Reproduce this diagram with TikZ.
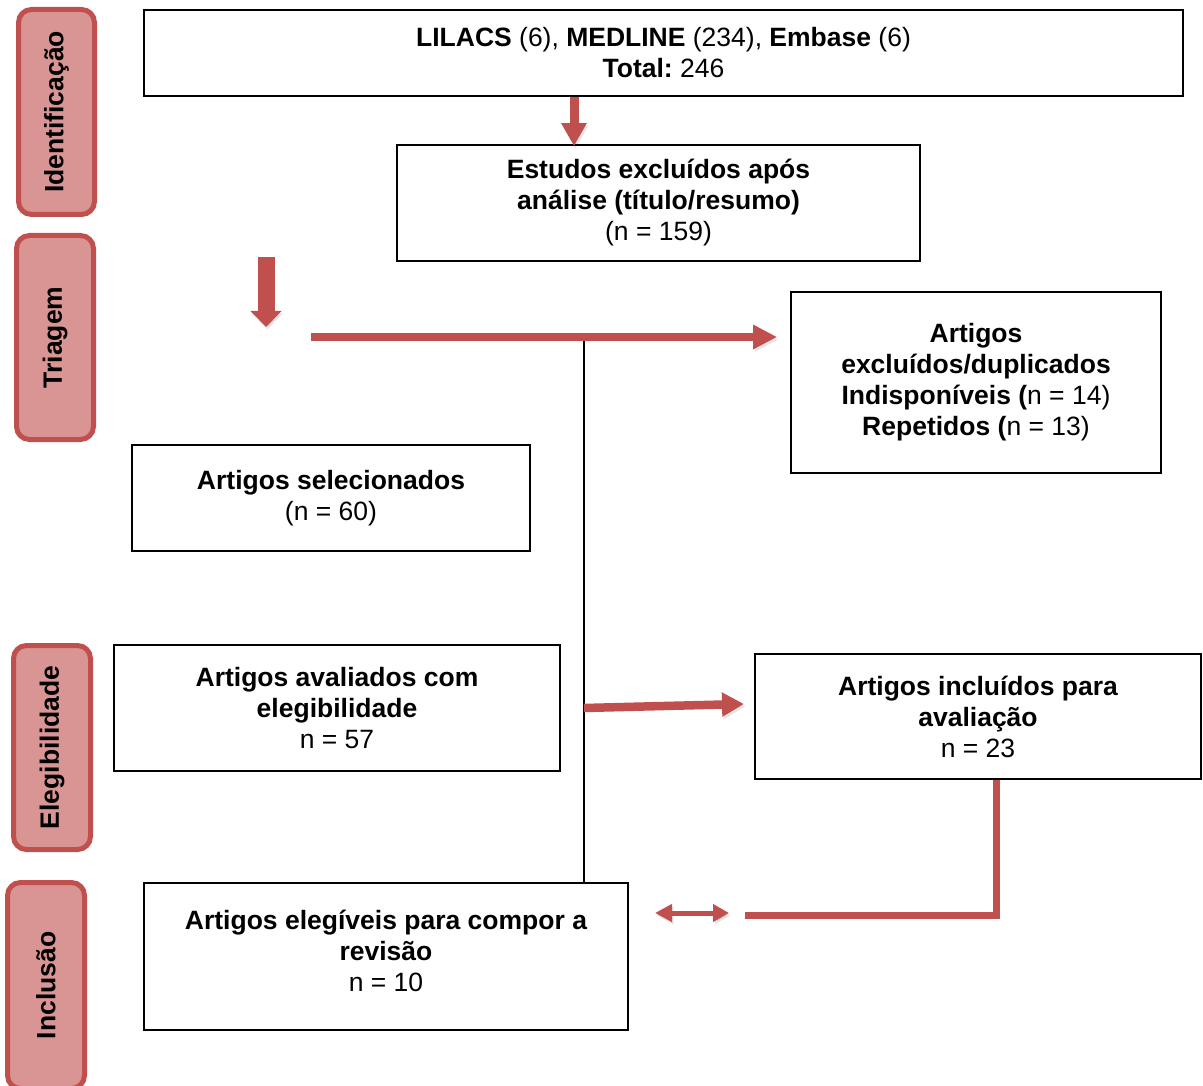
\documentclass[tikz,border=0pt]{standalone}
\usepackage{fontspec}
\setmainfont{Liberation Sans}
\usetikzlibrary{arrows.meta}
\definecolor{redA}{HTML}{C0504D}
\definecolor{pinkA}{HTML}{D99594}
\tikzset{
  box/.style={draw=black, line width=1.8pt, align=center, inner sep=0pt, text=black,
    font=\fontsize{26.5}{31}\selectfont},
  phase/.style={draw=redA, fill=pinkA, line width=5pt, rounded corners=13pt, inner sep=0pt,
    rotate=90, text=black, font=\bfseries\fontsize{26.5}{31}\selectfont},
  redline/.style={draw=redA, line width=#1, line join=miter,
    preaction={draw=black, draw opacity=0.10, fill opacity=0.10, transform canvas={shift={(1.5pt,-2.5pt)}}}},
}
\begin{document}
\begin{tikzpicture}[x=1pt,y=-1pt]
\useasboundingbox (0,0) rectangle (1203,1086);

% phase labels
\node[phase, minimum width=205pt, minimum height=76pt] (p1) at (56.5,112) {Identificação};
\node[phase, minimum width=204pt, minimum height=77pt] (p2) at (55,337.5) {Triagem};
\node[phase, minimum width=204pt, minimum height=77pt] (p3) at (52,747.5) {Elegibilidade};
\node[phase, minimum width=206pt, minimum height=77pt] (p4) at (46,985.5) {Inclusão};

% boxes
\node[box, minimum width=1039pt, minimum height=86pt] (src) at (663.5,53)
  {{\bfseries LILACS} (6), {\bfseries MEDLINE} (234), {\bfseries Embase} (6)\\{\bfseries Total:}~246};
\node[box, minimum width=523pt, minimum height=116pt] (est) at (658.5,203)
  {{\bfseries Estudos excluídos após}\\{\bfseries análise (título/resumo)}\\(n = 159)};
\node[box, minimum width=370pt, minimum height=181pt] (excl) at (976,382.5)
  {{\bfseries Artigos}\\{\bfseries excluídos/duplicados}\\{\bfseries Indisponíveis (}n = 14)\\{\bfseries Repetidos (}n = 13)};
\node[box, minimum width=398pt, minimum height=106pt] (sel) at (331,498)
  {{\bfseries Artigos selecionados}\\(n = 60)};
\node[box, minimum width=446pt, minimum height=126pt] (aval) at (337,708)
  {{\bfseries Artigos avaliados com}\\{\bfseries elegibilidade}\\n = 57};
\node[box, minimum width=446pt, minimum height=125pt] (incl) at (978,716.5)
  {{\bfseries Artigos incluídos para}\\{\bfseries avaliação}\\n = 23};
\node[box, minimum width=484pt, minimum height=147pt, text depth=12pt] (elig) at (386,956.5)
  {{\bfseries Artigos elegíveis para compor a}\\{\bfseries revisão}\\n = 10};

% coordinates for free ends
\coordinate (a1) at (574,0);
\coordinate (t1) at (266,257);
\coordinate (t2) at (266,327);
\coordinate (h1) at (311,337);
\coordinate (v1) at (584,340);
\coordinate (e1) at (584,708);
\coordinate (e2) at (744,704);
\coordinate (l1) at (996.5,0);
\coordinate (l2) at (745,915.5);
\coordinate (d1) at (655,913);
\coordinate (d2) at (729,913);

% black line
\draw[line width=1.8pt] (v1) -- (v1 |- elig.north);

% red arrows
\draw[redline=9pt, -{Triangle[width=24pt,length=23pt]}] (src.south -| a1) -- ([yshift=-2pt]est.north -| a1);
\draw[redline=17pt, -{Triangle[width=30pt,length=16pt]}] (t1) -- (t2);
\draw[redline=8.5pt, -{Triangle[width=23pt,length=24pt]}] (h1) -- (h1 -| excl.west) [shorten >=13pt];
\draw[redline=8.5pt, -{Triangle[width=23pt,length=22pt]}] (e1) -- (e2);
\draw[redline=7.5pt] (incl.south -| l1) |- (l2);
\draw[redline=5pt, {Triangle[width=17pt,length=17pt]}-{Triangle[width=17pt,length=16pt]}] (d1) -- (d2);
\end{tikzpicture}
\end{document}
